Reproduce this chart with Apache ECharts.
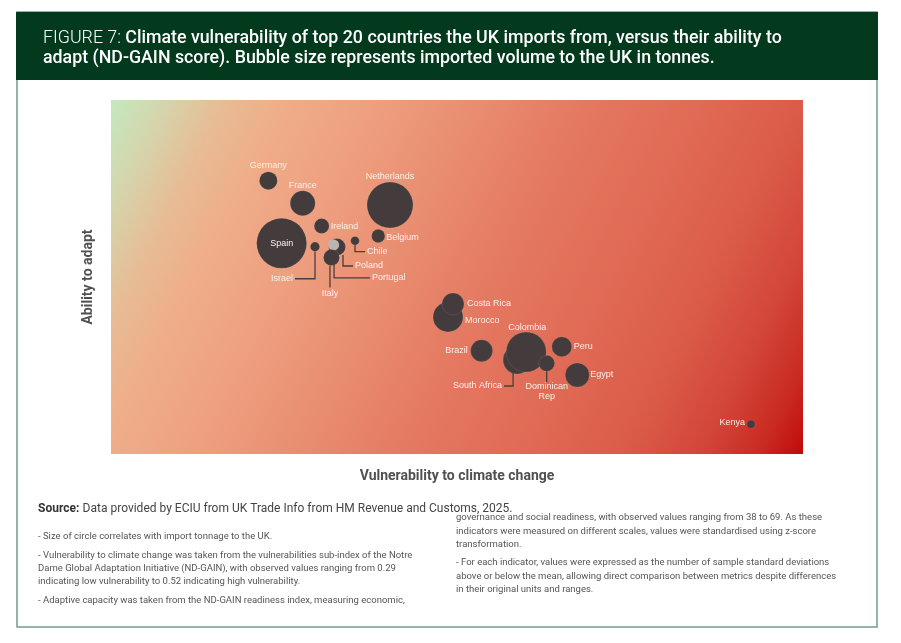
<!DOCTYPE html>
<html>
<head>
<meta charset="utf-8">
<script src="https://cdn.jsdelivr.net/npm/echarts@6/dist/echarts.min.js"></script>
<style>
html,body{margin:0;padding:0;background:#fff;}
#chart{width:901px;height:643px;}
</style>
</head>
<body>
<div id="chart"></div>
<script>
// ---- Data (z-scores and thousand tonnes) ----
const countries = ['Germany','France','Spain','Ireland','Netherlands','Belgium','Chile','Israel','Poland','Portugal','Italy','Morocco','Costa Rica','Brazil','South Africa','Colombia','Peru','Dominican Rep','Egypt','Kenya'];
const vulnerability = [-0.863,-0.615,-0.767,-0.478,0.016,-0.069,-0.237,-0.526,-0.367,-0.392,-0.407,0.435,0.471,0.678,0.934,1.000,1.257,1.148,1.369,2.624];
const adaptability  = [1.088,0.833,0.381,0.576,0.814,0.463,0.410,0.342,0.339,0.362,0.220,-0.452,-0.305,-0.833,-0.938,-0.847,-0.788,-0.975,-1.107,-1.664];
const volume        = [156,300,1200,108,1016,86,36,42,139,58,123,432,232,232,376,768,192,123,276,31];

const titleBold = ['Climate vulnerability of top 20 countries the UK imports from, versus their ability to','adapt (ND-GAIN score). Bubble size represents imported volume to the UK in tonnes.'];
const sourceText = 'Data provided by ECIU from UK Trade Info from HM Revenue and Customs, 2025.';
const notesLeft = [
  '- Size of circle correlates with import tonnage to the UK.',
  '- Vulnerability to climate change was taken from the vulnerabilities sub-index of the Notre',
  'Dame Global Adaptation Initiative (ND-GAIN), with observed values ranging from 0.29',
  'indicating low vulnerability to 0.52 indicating high vulnerability.',
  '- Adaptive capacity was taken from the ND-GAIN readiness index, measuring economic,'
];
const notesRight = [
  'governance and social readiness, with observed values ranging from 38 to 69. As these',
  'indicators were measured on different scales, values were standardised using z-score',
  'transformation.',
  '- For each indicator, values were expressed as the number of sample standard deviations',
  'above or below the mean, allowing direct comparison between metrics despite differences',
  'in their original units and ranges.'
];

// ---- Layout / styling (not data) ----
const notesLeftY = [537,556,569,582,601];
const notesRightY = [518,532,545,563,577,590];
const labelStyle = {
  'Germany':[0,-15,'center'],'France':[0,-18,'center'],'Spain':[0,0,'center'],
  'Ireland':[9,0,'left'],'Netherlands':[0,-28,'center'],'Belgium':[8,1,'left'],
  'Morocco':[17,4,'left'],'Costa Rica':[14,0,'left'],'Brazil':[-14,0,'right'],
  'Colombia':[1,-24,'center'],'Peru':[12,0,'left'],'Egypt':[13,0,'left'],'Kenya':[-6,-2,'right']
};
const leaders = {
  'Israel':{path:[[0,5],[0,32],[-20,32]],text:[-22,32],align:'right',va:'middle',label:'Israel'},
  'Poland':{path:[[6,8],[6,19],[16,19]],text:[18,19],align:'left',va:'middle',label:'Poland'},
  'Portugal':{path:[[0.5,16],[0.5,33],[36.5,33]],text:[38.5,33],align:'left',va:'middle',label:'Portugal'},
  'Italy':{path:[[-1.5,8],[-1.5,30]],text:[-1.5,36],align:'center',va:'middle',label:'Italy'},
  'Chile':{path:[[0,4],[0,11],[10,11]],text:[12,11],align:'left',va:'middle',label:'Chile'},
  'South Africa':{path:[[-4,12],[-4,26],[-13,26]],text:[-15,26],align:'right',va:'middle',label:'South Africa'},
  'Dominican Rep':{path:[[0,8],[0,19]],text:[0,18.5],align:'center',va:'top',label:'Dominican\nRep'}
};
const bubbleColor = '#443c3c';
const lightBubble = {'Portugal':'#bdb3b1'};
const labelColor = '#fbefea';
const labelFont = 'Liberation Sans, Arial, sans-serif';
const textFont = 'Roboto, "Noto Sans", sans-serif';

const scatterData = countries.map((n,i)=>{
  const item = {name:n, value:[vulnerability[i], adaptability[i], volume[i]],
    itemStyle:{color: lightBubble[n] || bubbleColor}};
  const ls = labelStyle[n];
  if (ls) {
    item.label = {show:true, position:'inside', offset:[ls[0],ls[1]], align:ls[2], verticalAlign:'middle'};
  } else {
    item.label = {show:false};
  }
  return item;
});
const leaderData = countries.map((n,i)=> leaders[n] ? [vulnerability[i], adaptability[i], i] : null).filter(Boolean);

const gridBg = new echarts.graphic.LinearGradient(0,0,1,1,[
  {offset:0,color:'#c3e9c0'},
  {offset:0.06,color:'#d4d6ad'},
  {offset:0.13,color:'#e7bc95'},
  {offset:0.2,color:'#efad88'},
  {offset:0.3,color:'#eea080'},
  {offset:0.42,color:'#e98d70'},
  {offset:0.55,color:'#e47860'},
  {offset:0.68,color:'#e06a55'},
  {offset:0.79,color:'#db5c49'},
  {offset:0.88,color:'#d3463a'},
  {offset:0.95,color:'#c92a21'},
  {offset:1,color:'#c00a08'}
]);

const graphics = [
  {type:'rect', z:0, shape:{x:17,y:12,width:860,height:615}, style:{fill:'none',stroke:'#739c89',lineWidth:1.5}},
  {type:'rect', z:1, shape:{x:16,y:12,width:862,height:68}, style:{fill:'#033a1d'}},
  {type:'text', z:2, x:38, y:509, style:{
    text:'{b|Source:} {r|'+sourceText+'}', verticalAlign:'middle',
    rich:{b:{fontFamily:textFont,fontSize:12,fontWeight:'bold',fill:'#333'},r:{fontFamily:textFont,fontSize:12,fill:'#444'}}
  }}
];
notesLeft.forEach((t,i)=>graphics.push({type:'text',z:2,x:38,y:notesLeftY[i],style:{text:t,fill:'#555',fontFamily:textFont,fontSize:9.5,verticalAlign:'middle'}}));
notesRight.forEach((t,i)=>graphics.push({type:'text',z:2,x:456,y:notesRightY[i],style:{text:t,fill:'#555',fontFamily:textFont,fontSize:9.5,verticalAlign:'middle'}}));

const chart = echarts.init(document.getElementById('chart'));
chart.setOption({
  animation:false,
  title:{
    left:38, top:24,
    text:'{a|FIGURE 7: }{b|'+titleBold[0]+'}\n{b|'+titleBold[1]+'}',
    textStyle:{
      rich:{
        a:{fontFamily:textFont,fontSize:17.8,fontWeight:300,color:'#fff',lineHeight:20},
        b:{fontFamily:textFont,fontSize:17.8,fontWeight:500,color:'#fff',lineHeight:20}
      }
    }
  },
  graphic:graphics,
  grid:{left:111, top:100, width:692, height:354, show:true, backgroundColor:gridBg, borderWidth:0},
  xAxis:{type:'value', min:-2, max:3, axisLine:{show:false}, axisTick:{show:false}, axisLabel:{show:false}, splitLine:{show:false},
    name:'Vulnerability to climate change', nameLocation:'middle', nameGap:15,
    nameTextStyle:{fontFamily:textFont,fontSize:14,fontWeight:'bold',color:'#505050'}},
  yAxis:{type:'value', min:-2, max:2, axisLine:{show:false}, axisTick:{show:false}, axisLabel:{show:false}, splitLine:{show:false},
    name:'Ability to adapt', nameLocation:'middle', nameGap:16,
    nameTextStyle:{fontFamily:textFont,fontSize:14,fontWeight:'bold',color:'#505050'}},
  series:[
    {
      type:'scatter', z:2,
      data:scatterData,
      symbolSize:(v)=>50*Math.sqrt(v[2]/1200),
      itemStyle:{opacity:1, borderColor:'rgba(255,255,255,0.12)', borderWidth:0.8},
      label:{formatter:'{b}', color:labelColor, fontSize:9, fontFamily:labelFont},
      emphasis:{disabled:true}
    },
    {
      type:'custom', z:3, clip:false,
      data:leaderData,
      renderItem:(params, api)=>{
        const idx = api.value(2);
        const name = countries[idx];
        const cfg = leaders[name];
        const c = api.coord([api.value(0), api.value(1)]);
        return {type:'group', children:[
          {type:'polyline', shape:{points:cfg.path.map(p=>[c[0]+p[0], c[1]+p[1]])}, style:{stroke:'#4a3e3e', lineWidth:1.3, fill:null}},
          {type:'text', x:c[0]+cfg.text[0], y:c[1]+cfg.text[1], style:{text:cfg.label, fill:labelColor, fontSize:9, fontFamily:labelFont, align:cfg.align, verticalAlign:cfg.va, lineHeight:9.5}}
        ]};
      }
    }
  ]
});
</script>
</body>
</html>
